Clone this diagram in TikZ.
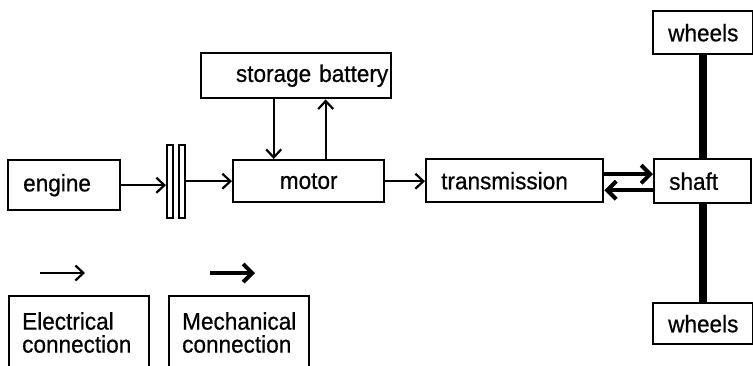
\documentclass[tikz,border=0pt]{standalone}
\usepackage{fontspec}
\setmainfont{Liberation Sans}[FakeStretch=0.94, FakeBold=0.6]
\usetikzlibrary{arrows.meta}

\tikzset{
  blk/.style={draw, line width=2.4pt, inner ysep=0pt, anchor=north west,
    font=\fontsize{24}{23}\selectfont},
  elec/.style={-{Straight Barb[length=8pt,width=15pt]}, line width=2.2pt},
  mech/.style={-{Straight Barb[length=9pt,width=18pt]}, line width=4pt},
  axle/.style={line width=8pt},
  disc/.style={draw, line width=2pt, minimum width=6pt, minimum height=73pt, inner sep=0pt}
}

\begin{document}
\begin{tikzpicture}[x=1pt, y=-1pt]
\clip (0,0) rectangle (753,365);
% blocks
\node[blk, inner xsep=15pt, text width=82pt, minimum height=50pt, align=left] (engine) at (7,159) {engine};
\node[disc] (clutchA) at (170,181.5) {};
\node[disc] (clutchB) at (181.5,181.5) {};
\node[blk, inner xsep=0pt, text width=151pt, minimum height=42pt, align=center] (motor) at (232,159) {motor};
\node[blk, inner xsep=3pt, text width=184pt, minimum height=45pt, align=right] (battery) at (200,52) {storage battery};
\node[blk, inner xsep=15pt, text width=147pt, minimum height=43pt, align=left] (trans) at (425,158) {transmission};
\node[blk, inner xsep=15pt, text width=67pt, minimum height=44pt, align=left] (shaft) at (653,158) {shaft};
\node[blk, inner xsep=15pt, text width=70pt, minimum height=43pt, align=left] (wheelsTop) at (652,10) {wheels};
\node[blk, inner xsep=15pt, text width=70pt, minimum height=41pt, align=left] (wheelsBot) at (652,302) {wheels};

% connections
\draw[elec] (engine.east) -- (engine.east -| clutchA.west);
\draw[elec] (clutchB.east |- motor.west) -- (motor.west);
\draw[elec] ([xshift=-35pt]motor.north |- battery.south) -- ([xshift=-35pt]motor.north);
\draw[elec] ([xshift=17pt]motor.north) -- ([xshift=17pt]motor.north |- battery.south);
\draw[elec] (motor.east) -- (motor.east -| trans.west);
\draw[mech] ([yshift=6.5pt]trans.east) -- ([yshift=6.5pt]trans.east -| shaft.west);
\draw[mech] ([yshift=-9.5pt]trans.east -| shaft.west) -- ([yshift=-9.5pt]trans.east);
\draw[axle] (wheelsTop.south) -- (wheelsTop.south |- shaft.north);
\draw[axle] (shaft.south) -- (shaft.south |- wheelsBot.north);

% legend
\coordinate (elecA) at (40,273);
\coordinate (elecB) at (85,273);
\coordinate (mechA) at (210,273);
\coordinate (mechB) at (255,273);
\draw[elec] (elecA) -- (elecB);
\draw[mech] (mechA) -- (mechB);
\node[blk, inner xsep=13pt, inner ysep=16pt, text width=114pt, align=left] (elecKey) at (8,295) {Electrical\\connection};
\node[blk, inner xsep=13pt, inner ysep=16pt, text width=114pt, align=left] (mechKey) at (168,295) {Mechanical\\connection};
\end{tikzpicture}
\end{document}
